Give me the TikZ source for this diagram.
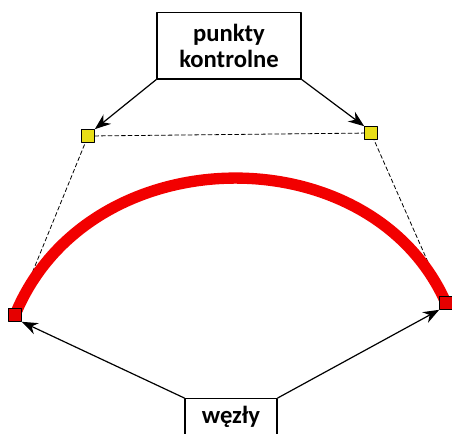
\documentclass[tikz,border=0pt]{standalone}
\usepackage{fontspec}
\setmainfont{Carlito}
\usetikzlibrary{arrows.meta}
\tikzset{
  label box/.style={draw,line width=1pt,fill=white,inner sep=0pt,
    font=\fontsize{18.5}{19.5}\selectfont\bfseries,align=center},
  ctrl pt/.style={draw,line width=0.7pt,fill=yellow!90!black,minimum size=9.5pt,inner sep=0pt},
  knot pt/.style={draw,line width=0.7pt,fill=red!90!black,minimum size=9.5pt,inner sep=0pt},
  pointer/.style={line width=0.9pt,-{Stealth[length=12pt,width=9pt]}},
  helper/.style={densely dashed,line width=0.6pt}
}
\begin{document}
\begin{tikzpicture}[x=0.75pt,y=-0.75pt,line cap=round,line join=round]
  \useasboundingbox (0,0) rectangle (452,433);
  \clip (0,0) rectangle (452,433);
  \coordinate (K1) at (15,315);
  \coordinate (P1) at (88,136);
  \coordinate (P2) at (371,133);
  \coordinate (K2) at (446,303);
  % dashed control polygon
  \draw[helper] (K1) -- (P1) -- (P2) -- (K2);
  % the curve
  \draw[red!95!black,line width=8.5pt,line cap=butt] (K1) .. controls (P1) and (P2) .. (K2);
  \node[ctrl pt] (c1) at (P1) {};
  \node[ctrl pt] (c2) at (P2) {};
  \node[knot pt] (k1) at (K1) {};
  \node[knot pt] (k2) at (K2) {};
  % labels
  \node[label box,minimum width=108pt,minimum height=50pt] (ctrl) at (229,45.5) {punkty\\kontrolne};
  \node[label box,minimum width=69pt,minimum height=40pt,anchor=north] (knots) at (231,398) {};
  \node[font=\fontsize{18.5}{19.5}\selectfont\bfseries] (knotstext) at (231,417) {węzły};
  \draw[pointer] (ctrl.south west) -- (c1.north east);
  \draw[pointer] (ctrl.south east) -- (c2.north west);
  \draw[pointer] (knots.north west) -- (k1.south east);
  \draw[pointer] (knots.north east) -- (k2.south west);
\end{tikzpicture}
\end{document}
